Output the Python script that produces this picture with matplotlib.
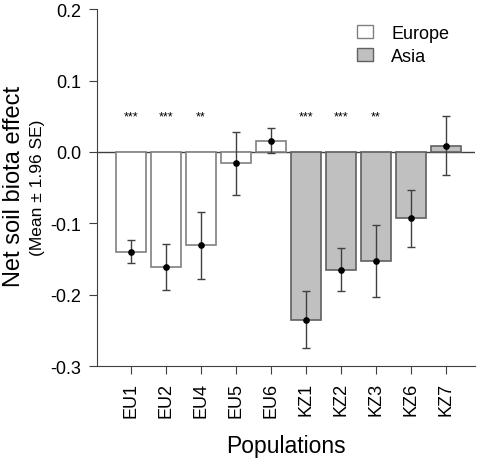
import numpy as np
import matplotlib.pyplot as plt
from matplotlib.patches import Patch

plt.rcParams['font.family'] = ['Liberation Sans', 'DejaVu Sans']

# populations
pops = ['EU1', 'EU2', 'EU4', 'EU5', 'EU6', 'KZ1', 'KZ2', 'KZ3', 'KZ6', 'KZ7']
region = ['Europe'] * 5 + ['Asia'] * 5
means = [-0.140, -0.161, -0.131, -0.016, 0.016, -0.235, -0.165, -0.153, -0.093, 0.009]
ci = [0.016, 0.032, 0.047, 0.044, 0.018, 0.040, 0.030, 0.050, 0.040, 0.042]
stars = ['***', '***', '**', '', '', '***', '***', '**', '', '']

fill = {'Europe': 'white', 'Asia': '#c0c0c0'}
edge = {'Europe': '#808080', 'Asia': '#606060'}

fig = plt.figure(figsize=(4.8, 4.64), dpi=100)
ax = fig.add_axes([0.202, 0.209, 0.788, 0.769])

x = np.arange(len(pops))
ax.bar(x, means, width=0.86, color=[fill[r] for r in region],
       edgecolor=[edge[r] for r in region], linewidth=1.2, zorder=2)
ax.errorbar(x, means, yerr=ci, fmt='o', color='black', ms=3.8,
            ecolor='#404040', elinewidth=1, capsize=3, capthick=1, zorder=3)
ax.axhline(0, color='#404040', lw=1, zorder=1)

for xi, s in zip(x, stars):
    if s:
        ax.text(xi, 0.05, s, ha='center', va='center', fontsize=9)

ax.set_xlim(-0.97, 9.83)
ax.set_ylim(-0.3, 0.2)
ax.set_yticks([-0.3, -0.2, -0.1, 0.0, 0.1, 0.2])
ax.set_yticklabels(['-0.3', '-0.2', '-0.1', '0.0', '0.1', '0.2'], fontsize=13)
ax.set_xticks(x)
ax.set_xticklabels(pops, rotation=90, fontsize=13)
for s in ['top', 'right']:
    ax.spines[s].set_visible(False)
for s in ['left', 'bottom']:
    ax.spines[s].set_color('#404040')
ax.tick_params(axis='y', length=6, color='#404040', pad=5.5)
ax.tick_params(axis='x', length=6, color='#404040', pad=5.5)

ax.set_xlabel('Populations', fontsize=16.5, labelpad=12)
fig.text(0.03, 0.598, 'Net soil biota effect', rotation=90, fontsize=17,
         ha='center', va='center')
fig.text(0.079, 0.595, '(Mean \u00b1 1.96 SE)', rotation=90, fontsize=12.5,
         ha='center', va='center')

handles = [Patch(facecolor=fill[r], edgecolor=edge[r]) for r in ['Europe', 'Asia']]
fig.legend(handles, ['Europe', 'Asia'], loc='upper left',
           bbox_to_anchor=(0.744, 0.945), frameon=False, fontsize=13,
           handlelength=0.9, handleheight=0.75, handletextpad=1.0,
           labelspacing=0.35, borderpad=0, borderaxespad=0)

fig.savefig('out.png', dpi=100)
